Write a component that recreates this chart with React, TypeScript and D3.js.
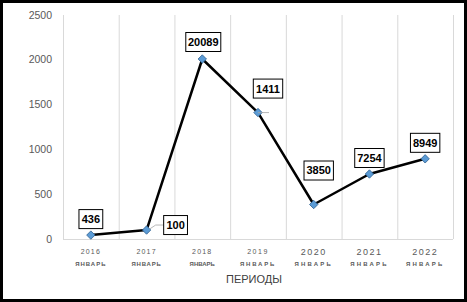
import React from "react";
import * as d3 from "d3";

const years = ["2016", "2017", "2018", "2019", "2020", "2021", "2022"];
const monthLabel = "ЯНВАРЬ";
const values = [43.6, 100, 2008.9, 1411, 385, 725.4, 894.9];
const dataLabels = ["436", "100", "20089", "1411", "3850", "7254", "8949"];
const yTicks = [0, 500, 1000, 1500, 2000, 2500];
const axisTitle = "ПЕРИОДЫ";

// label box offsets relative to the point (layout)
const labelOffsets: [number, number][] = [
  [0, -16], [29, -5], [1, -17], [10, -24], [5, -34], [0, -16], [0, -16],
];
// x-label styling per category (layout)
const yearStyle = [
  { fs: 7, ls: 1.2 }, { fs: 7, ls: 1.2 }, { fs: 7, ls: 1.2 }, { fs: 7, ls: 1.5 },
  { fs: 9, ls: 1.5 }, { fs: 9, ls: 1.5 }, { fs: 9, ls: 1.5 },
];
const monthStyle = [
  { fs: 6, ls: 1 }, { fs: 6, ls: 0.8 }, { fs: 6, ls: 0 }, { fs: 6, ls: 1.8 },
  { fs: 6, ls: 2.2 }, { fs: 6, ls: 2.2 }, { fs: 6, ls: 2.2 },
];

export default function App() {
  const W = 467, H = 302;
  const left = 63, right = 453, top = 15, bottom = 239;
  const x = d3.scaleBand<string>().domain(years).range([left, right]);
  const y = d3.scaleLinear().domain([0, 2500]).range([bottom, top]);
  const cx = (i: number) => (x(years[i]) as number) + x.bandwidth() / 2;
  const line = d3.line<number>().x((_, i) => cx(i)).y((d) => y(d));
  const font = "'Liberation Sans', Arial, sans-serif";
  const gridXs = years.map((yr) => x(yr) as number).concat([right]);

  return (
    <svg width={W} height={H} style={{ position: "absolute", left: 0, top: 0 }} fontFamily={font}>
      <rect x={0} y={0} width={W} height={H} fill="#fff" />
      <rect x={1.5} y={1.5} width={W - 3} height={H - 3} fill="none" stroke="#000" strokeWidth={3} />
      {gridXs.map((gx, i) => (
        <line key={i} x1={gx + 0.5} x2={gx + 0.5} y1={top} y2={bottom} stroke="#d9d9d9" strokeWidth={1} />
      ))}
      <line x1={left} x2={right} y1={bottom + 0.5} y2={bottom + 0.5} stroke="#d9d9d9" />
      {yTicks.map((t) => (
        <text key={t} x={52} y={y(t)} dy="0.35em" textAnchor="end" fontSize={10.5} fill="#595959">
          {t}
        </text>
      ))}
      {years.map((yr, i) => (
        <g key={yr}>
          <text x={cx(i)} y={252} dy="0.35em" textAnchor="middle" fontSize={yearStyle[i].fs}
            letterSpacing={yearStyle[i].ls} fill="#595959">{yr}</text>
          <text x={cx(i)} y={264} dy="0.35em" textAnchor="middle" fontSize={monthStyle[i].fs}
            fontWeight="bold" letterSpacing={monthStyle[i].ls} fill="#595959">{monthLabel}</text>
        </g>
      ))}
      <text x={254} y={279} dy="0.35em" textAnchor="middle" fontSize={11} fill="#404040">{axisTitle}</text>
      <path d={line(values) || ""} fill="none" stroke="#000" strokeWidth={2.5} strokeLinejoin="round" />
      {values.map((v, i) => {
        const px = cx(i), py = y(v);
        return (
          <path key={i} d={`M${px},${py - 4.2}L${px + 4.2},${py}L${px},${py + 4.2}L${px - 4.2},${py}Z`}
            fill="#5b9bd5" stroke="#2f5f8f" strokeWidth={0.8} />
        );
      })}
      {dataLabels.map((lab, i) => {
        const px = cx(i), py = y(values[i]);
        const [dx, dy] = labelOffsets[i];
        const bx = px + dx, by = py + dy;
        const bw = lab.length * 5.6 + 7;
        const bh = 19;
        let leader: React.ReactNode = null;
        if (i === 1) {
          leader = <path d={`M${px + 3},${py - 1} L${bx - bw / 2 - 8},${by} L${bx - bw / 2},${by}`} fill="none" stroke="#a6a6a6" strokeWidth={0.8} />;
        } else if (i === 3) {
          leader = <line x1={px} x2={px + 11} y1={py} y2={py} stroke="#a6a6a6" strokeWidth={0.8} />;
        }
        return (
          <g key={lab}>
            {leader}
            <rect x={bx - bw / 2} y={by - bh / 2} width={bw} height={bh} fill="#fff" stroke="#000" strokeWidth={1} />
            <text x={bx} y={by} dy="0.36em" textAnchor="middle" fontSize={11} fontWeight="bold" fill="#000">{lab}</text>
          </g>
        );
      })}
    </svg>
  );
}
